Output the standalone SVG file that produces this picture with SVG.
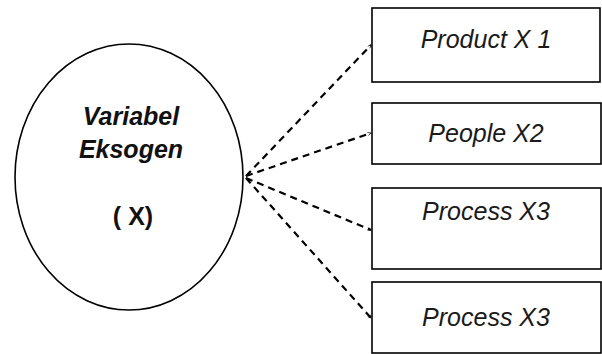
<svg xmlns="http://www.w3.org/2000/svg" width="602" height="354" viewBox="0 0 602 354">
<defs>
<style>
.box{fill:#fff;stroke:#000;stroke-width:1.6}
.lbl{font-family:"Liberation Sans",Arial,sans-serif;font-style:italic;font-size:25px;fill:#1a1a1a;text-anchor:middle}
.el{font-family:"Liberation Sans",Arial,sans-serif;font-weight:bold;font-size:25px;fill:#111;text-anchor:middle}
.con{fill:none;stroke:#000;stroke-width:2.2;stroke-dasharray:7 5}
</style>
<marker id="ah" viewBox="0 0 10 10" refX="9" refY="5" markerWidth="4" markerHeight="4" orient="auto" markerUnits="userSpaceOnUse">
<path d="M1,1 L9,5 L1,9" fill="none" stroke="#000" stroke-width="1.6"/>
</marker>
</defs>
<rect width="602" height="354" fill="#fff"/>
<g id="connectors">
<line class="con" x1="246" y1="176" x2="371" y2="45" marker-end="url(#ah)"/>
<line class="con" x1="246" y1="176" x2="371" y2="133" marker-end="url(#ah)"/>
<line class="con" x1="246" y1="178" x2="371" y2="230" marker-end="url(#ah)"/>
<line class="con" x1="246" y1="178" x2="371" y2="318" marker-end="url(#ah)"/>
</g>
<g id="exogen">
<ellipse cx="129" cy="177" rx="114" ry="133" fill="#fff" stroke="#000" stroke-width="1.6"/>
<text class="el" x="131" y="125" font-style="italic">Variabel</text>
<text class="el" x="131" y="158" font-style="italic">Eksogen</text>
<text class="el" x="133" y="225">( X)</text>
</g>
<g id="product">
<rect class="box" x="372" y="8" width="228" height="74"/>
<text class="lbl" x="486" y="48">Product X 1</text>
</g>
<g id="people">
<rect class="box" x="372" y="103" width="229" height="61"/>
<text class="lbl" x="486" y="142">People X2</text>
</g>
<g id="process1">
<rect class="box" x="372" y="188" width="229" height="81"/>
<text class="lbl" x="486" y="220">Process X3</text>
</g>
<g id="process2">
<rect class="box" x="372" y="282" width="229" height="71"/>
<text class="lbl" x="486" y="326">Process X3</text>
</g>
</svg>
